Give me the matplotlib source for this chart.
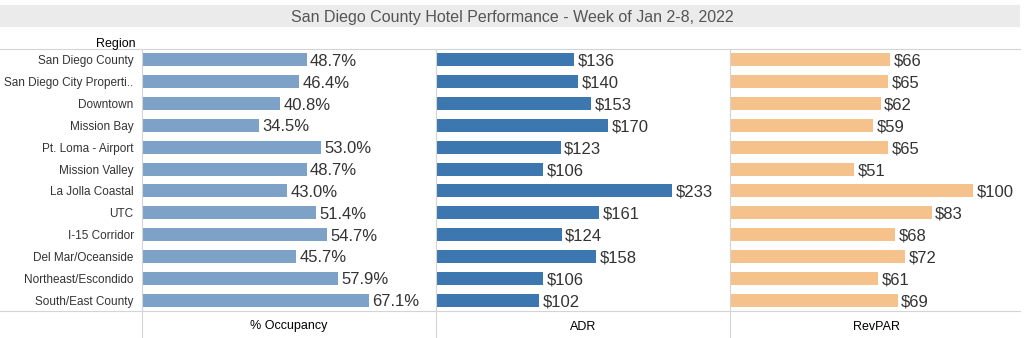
import matplotlib.pyplot as plt
from matplotlib.patches import Rectangle
from matplotlib.lines import Line2D

plt.rcParams['font.family'] = ['Liberation Sans', 'DejaVu Sans']

regions = ['San Diego County', 'San Diego City Properti..', 'Downtown', 'Mission Bay',
           'Pt. Loma - Airport', 'Mission Valley', 'La Jolla Coastal', 'UTC',
           'I-15 Corridor', 'Del Mar/Oceanside', 'Northeast/Escondido', 'South/East County']
occupancy = [48.7, 46.4, 40.8, 34.5, 53.0, 48.7, 43.0, 51.4, 54.7, 45.7, 57.9, 67.1]
adr = [136, 140, 153, 170, 123, 106, 233, 161, 124, 158, 106, 102]
revpar = [66, 65, 62, 59, 65, 51, 100, 83, 68, 72, 61, 69]

W, H = 1024, 338
fig = plt.figure(figsize=(W / 100, H / 100), dpi=100)
fig.patch.set_facecolor('white')


def px(x0, y0, w, h):
    # pixel box (top-left origin) -> figure fraction
    return [x0 / W, 1 - (y0 + h) / H, w / W, h / H]


# title band
fig.patches.append(Rectangle((0, 1 - 27 / H), 1020 / W, 22 / H, transform=fig.transFigure,
                             facecolor='#ebebeb', edgecolor='none'))
fig.text(512 / W, 1 - 16 / H, 'San Diego County Hotel Performance - Week of Jan 2-8, 2022',
         ha='center', va='center_baseline', fontsize=11.5, color='#555555')
fig.text(136 / W, 1 - 42 / H, 'Region', ha='right', va='center_baseline', fontsize=9, color='black')

panels = [
    (occupancy, '#7ea1c7', 87, lambda v: f'{v:.1f}%', '% Occupancy'),
    (adr, '#3c77b0', 290, lambda v: f'${v}', 'ADR'),
    (revpar, '#f6c28b', 121, lambda v: f'${v}', 'RevPAR'),
]

left0, pw = 142, 294
for i, (vals, clr, vmax, fmt, name) in enumerate(panels):
    ax = fig.add_axes(px(left0 + i * pw, 49, pw, 262))
    ys = list(range(len(regions)))
    ax.barh(ys, vals, height=0.6, color=clr, left=0)
    for y, v in zip(ys, vals):
        ax.text(v + vmax * 0.012, y, fmt(v), va='center_baseline', ha='left',
                fontsize=12, color='#333333')
    ax.set_xlim(0, vmax)
    ax.set_ylim(len(regions) - 0.5, -0.5)
    ax.set_xticks([])
    for s in ax.spines.values():
        s.set_visible(False)
    if i == 0:
        ax.set_yticks(ys)
        ax.set_yticklabels(regions, fontsize=8.5, color='#333333', va='center_baseline')
        ax.tick_params(axis='y', length=0, pad=6)
    else:
        ax.set_yticks([])
    fig.text((left0 + i * pw + pw / 2) / W, 1 - 325 / H, name, ha='center', va='center_baseline',
             fontsize=9, color='black')
    xl = (left0 + i * pw) / W
    fig.lines.append(Line2D([xl, xl], [0, 1 - 49 / H], transform=fig.transFigure,
                            color='#d4d4d4', lw=0.8))

for yy in (49, 311):
    fig.lines.append(Line2D([0, 1020 / W], [1 - yy / H, 1 - yy / H], transform=fig.transFigure,
                            color='#d4d4d4', lw=0.8))

fig.savefig('out.png', dpi=100)
